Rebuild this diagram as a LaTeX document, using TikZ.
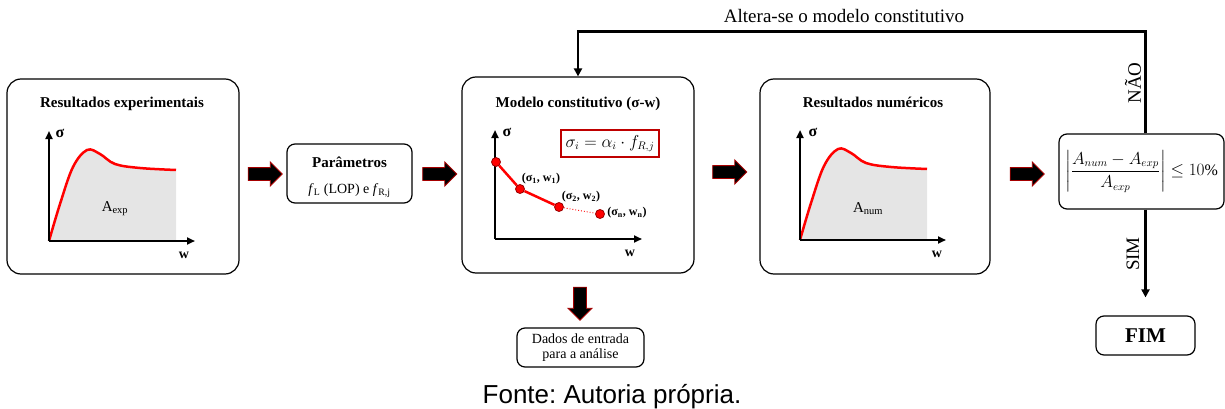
\documentclass[tikz,border=0pt]{standalone}
\usepackage{amsmath}
\usepackage{fontspec}
\setmainfont{Liberation Serif}
\newfontfamily\fontefont{Liberation Sans}
\usetikzlibrary{
	arrows.meta,
	calc,
	positioning,
	shapes.arrows
}
\frenchspacing

\newcommand{\curvatensao}{plot[smooth, tension=0.6] coordinates {(0,0) (11,-37) (24,-74) (38,-91) (51,-87) (66,-77) (91,-73) (127,-71)}}

\begin{document}
\begin{tikzpicture}[x=1pt, y=-1pt,
		etapa/.style={draw, line width=1.2pt, rounded corners=14pt, inner sep=0pt},
		caixa/.style={draw, line width=1.2pt, rounded corners=8pt, align=center, inner sep=0pt},
		titulo/.style={font=\fontsize{15}{18}\selectfont\bfseries, anchor=base},
		seta/.style={single arrow, draw=red!65!black, fill=black, line width=0.9pt, minimum width=23pt, minimum height=34pt, single arrow head extend=5.5pt, inner sep=0pt},
		eixo/.style={line width=2pt, -{Triangle[length=8pt,width=7pt]}},
		curva/.style={red, line width=2.5pt},
		ponto/.style={circle, fill=red, draw=red!60!black, line width=0.8pt, minimum size=9pt, inner sep=0pt},
		ligacao/.style={line width=2.4pt, -{Triangle[length=8pt,width=8pt]}},
		rotulo/.style={font=\fontsize{19}{22}\selectfont},
		par/.style={font=\fontsize{12}{14}\selectfont\bfseries}
	]
	\useasboundingbox (0,0) rectangle (1225,409);
	% etapas
	\node[etapa, minimum width=232pt, minimum height=195pt] (exp) at (123,176.5) {};
	\node[caixa, minimum width=125pt, minimum height=59pt] (param) at (349.5,173.5) {};
	\node[etapa, minimum width=232pt, minimum height=196pt] (modelo) at (578,175) {};
	\node[etapa, minimum width=230pt, minimum height=195pt] (num) at (875,176.5) {};
	\node[caixa, minimum width=165pt, minimum height=75pt] (crit) at (1141.5,171.5)
		{\fontsize{16}{18}\selectfont $\left|\dfrac{A_{num}-A_{exp}}{A_{exp}}\right| \le 10\%$};
	\node[caixa, minimum width=99pt, minimum height=39pt, font=\fontsize{21}{24}\selectfont\bfseries] (fim) at (1145.5,335.5) {FIM};
	\node[caixa, minimum width=127pt, minimum height=39pt, font=\fontsize{14}{15}\selectfont] (dados) at (580.5,347.5) {Dados de entrada\\para a análise};
	% titulos
	\node[titulo] (t1) at (122,107) {Resultados experimentais};
	\node[titulo] (t2) at (349.5,167) {Parâmetros};
	\node[anchor=base, font=\fontsize{14}{16}\selectfont] (t2b) at (349.5,193) {\textit{f}\textsubscript{L} (LOP) e \textit{f}\textsubscript{R,j}};
	\node[titulo] (t3) at (578,107) {Modelo constitutivo (σ-w)};
	\node[titulo] (t4) at (873,107) {Resultados numéricos};
	% setas em bloco
	\node[seta] (s1) at (262,174) {\rule{0pt}{12pt}};
	\node[seta] (s2) at (436.5,174) {\rule{0pt}{12pt}};
	\node[seta] (s3) at (726.5,172) {\rule{0pt}{12pt}};
	\node[seta] (s4) at (1024,174) {\rule{0pt}{12pt}};
	\node[seta, shape border rotate=270, minimum height=33pt] (s5) at (580,300.5) {\rule{12pt}{0pt}};
	% grafico experimental
	\coordinate (o1) at (49,241);
	\begin{scope}[shift={(o1)}]
		\fill[gray!20] \curvatensao -- (127,0) -- cycle;
		\draw[curva] \curvatensao;
	\end{scope}
	\draw[eixo] (o1) -- (49,131);
	\draw[eixo] (o1) -- (195,241);
	\node[font=\fontsize{16}{18}\selectfont\bfseries] (sig1) at (60,133) {σ};
	\node[font=\fontsize{14}{16}\selectfont\bfseries] (w1) at (184,255) {w};
	\node[font=\fontsize{15}{18}\selectfont] (aexp) at (115,209) {A\textsubscript{exp}};
	% grafico numerico
	\coordinate (o4) at (800,240);
	\begin{scope}[shift={(o4)}]
		\fill[gray!20] \curvatensao -- (127,0) -- cycle;
		\draw[curva] \curvatensao;
	\end{scope}
	\draw[eixo] (o4) -- (800,130);
	\draw[eixo] (o4) -- (946,240);
	\node[font=\fontsize{16}{18}\selectfont\bfseries] (sig4) at (813,132) {σ};
	\node[font=\fontsize{14}{16}\selectfont\bfseries] (w4) at (937,254) {w};
	\node[font=\fontsize{15}{18}\selectfont] (anum) at (868,209) {A\textsubscript{num}};
	% modelo constitutivo
	\coordinate (o3) at (495,239);
	\draw[eixo] (o3) -- (495,130);
	\draw[eixo] (o3) -- (642,239);
	\node[font=\fontsize{16}{18}\selectfont\bfseries] (sig3) at (507,132) {σ};
	\node[font=\fontsize{14}{16}\selectfont\bfseries] (w3) at (630,253) {w};
	\node[ponto] (p0) at (496,162) {};
	\node[ponto] (p1) at (520,189) {};
	\node[ponto] (p2) at (559,207) {};
	\node[ponto] (pn) at (600,214) {};
	\draw[curva] (p0) -- (p1) -- (p2);
	\draw[red, line width=0.9pt, dotted] (p2) -- (pn);
	\node[par] (l1) at (541,179) {(σ\textsubscript{1}, w\textsubscript{1})};
	\node[par] (l2) at (581,197) {(σ\textsubscript{2}, w\textsubscript{2})};
	\node[par] (ln) at (627,213) {(σ\textsubscript{n}, w\textsubscript{n})};
	\node[draw=red!75!black, line width=1.3pt, minimum width=98pt, minimum height=27pt, font=\fontsize{16}{18}\selectfont] (lei) at (610,143.5) {$\sigma_i = \alpha_i \cdot f_{R,j}$};
	% ligacoes
	\coordinate (topo) at (fim.north |- crit.north);
	\coordinate (base) at (fim.north |- crit.south);
	\draw[ligacao] (topo) |- ($(modelo.north)+(0,-45)$) -- (modelo.north);
	\draw[ligacao, shorten >=18pt] (base) -- (fim.north);
	\node[rotulo, anchor=base] (altera) at (844,23) {Altera-se o modelo constitutivo};
	\node[rotulo, rotate=90] (nao) at (1133,83) {NÃO};
	\node[rotulo, rotate=90] (sim) at (1133,254) {SIM};
	% fonte
	\node[anchor=base, font=\fontefont\fontsize{26}{28}\selectfont] (fonte) at (612,403) {Fonte: Autoria própria.};
\end{tikzpicture}
\end{document}
